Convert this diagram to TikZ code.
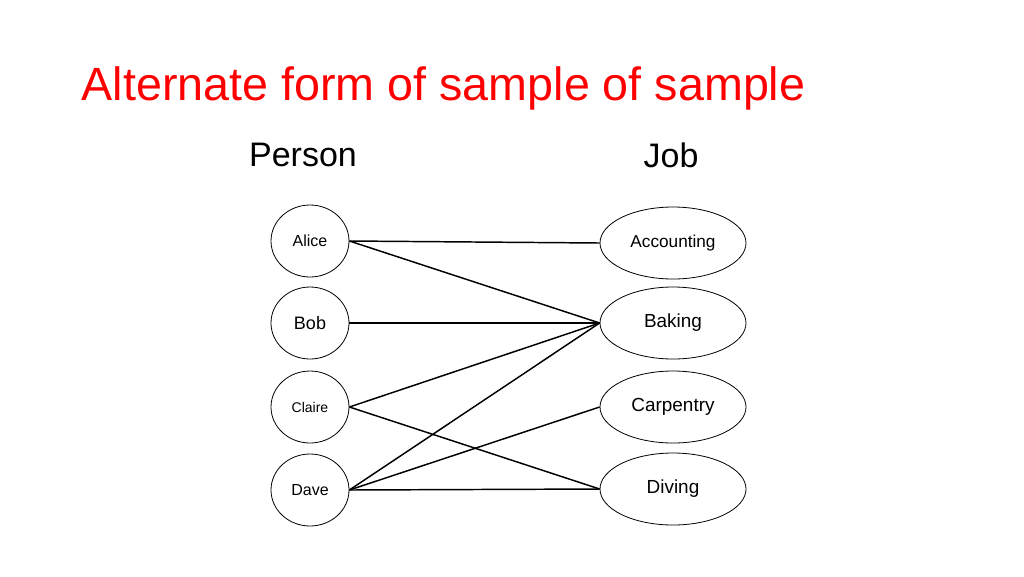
\documentclass[tikz,border=0pt]{standalone}
\usepackage{fontspec}
\setmainfont{Liberation Sans}
\usetikzlibrary{shapes.geometric}
\begin{document}
\begin{tikzpicture}[x=0.75pt,y=-0.75pt,
  pnode/.style={draw,ellipse,minimum width=58.5pt,minimum height=54pt,inner sep=0pt,line width=0.6pt},
  jnode/.style={draw,ellipse,minimum width=109.5pt,minimum height=54pt,inner sep=0pt,line width=0.6pt},
  link/.style={line width=1.1pt}]
\useasboundingbox (0,0) rectangle (1024,576);
\node[anchor=base west,text=red,font=\fontsize{35}{42}\selectfont] (title) at (77,100) {Alternate form of sample of sample};
\node[font=\fontsize{25.5}{30}\selectfont] (ph) at (303,155) {Person};
\node[font=\fontsize{25.5}{30}\selectfont] (jh) at (671,155) {Job};
\node[pnode,font=\fontsize{12}{14}\selectfont] (alice) at (310,241) {Alice};
\node[pnode,font=\fontsize{13.5}{15}\selectfont] (bob) at (310,323) {Bob};
\node[pnode,font=\fontsize{10.5}{12}\selectfont] (claire) at (310,407) {Claire};
\node[pnode,font=\fontsize{12}{14}\selectfont] (dave) at (310,490) {Dave};
\node[jnode,font=\fontsize{12.9}{15}\selectfont] (acc) at (673,243) {Accounting};
\node[jnode,font=\fontsize{14.2}{16}\selectfont] (bak) at (673,323) {Baking};
\node[jnode,font=\fontsize{14.2}{16}\selectfont] (car) at (673,407) {Carpentry};
\node[jnode,font=\fontsize{14.2}{16}\selectfont] (div) at (673,489) {Diving};
\draw[link] (alice.east) -- (acc.west);
\draw[link] (alice.east) -- (bak.west);
\draw[link] (bob.east) -- (bak.west);
\draw[link] (claire.east) -- (bak.west);
\draw[link] (claire.east) -- (div.west);
\draw[link] (dave.east) -- (bak.west);
\draw[link] (dave.east) -- (car.west);
\draw[link] (dave.east) -- (div.west);
\end{tikzpicture}
\end{document}
